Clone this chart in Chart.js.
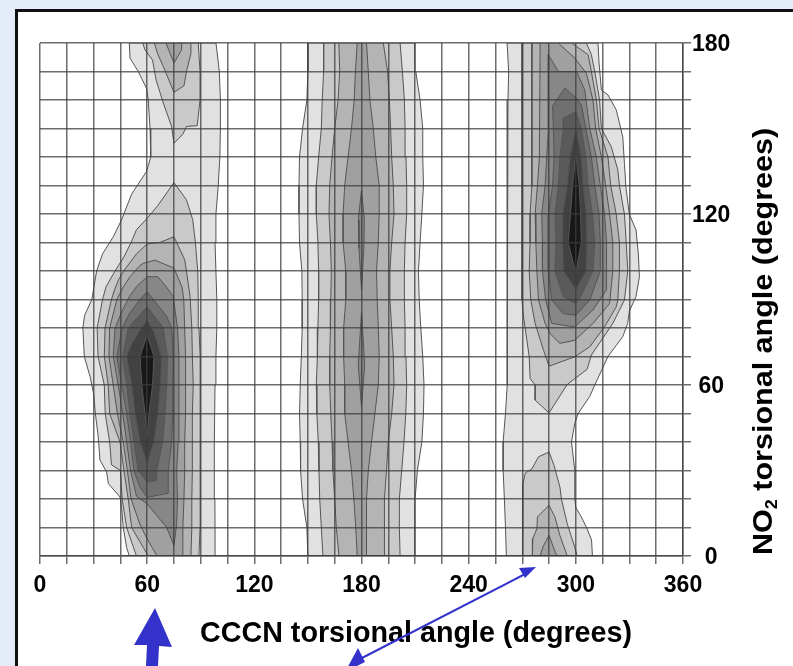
<!DOCTYPE html>
<html><head><meta charset="utf-8">
<style>
html,body{margin:0;padding:0;width:793px;height:666px;overflow:hidden;background:#e4ecf9}
#panel{position:absolute;left:15px;top:9px;width:778px;height:657px;background:#fff;border-left:3px solid #111;border-top:3px solid #111;box-sizing:border-box}
canvas{position:absolute;left:0;top:0;filter:blur(0.45px)}
svg{position:absolute;left:0;top:0;pointer-events:none}
</style>
<script src="https://cdn.jsdelivr.net/npm/chart.js@4"></script>
</head><body>
<div id="panel"></div>
<canvas id="c" width="793" height="666"></canvas>
<svg width="793" height="666">
<g fill="#3333cc" stroke="none">
<path d="M134 645 L155 608 L172 647 L159 646 L158 666 L146 666 L147 645 Z"/>
<path d="M536 567 L519 568 L525 578 Z"/>
<path d="M358 648 L365 662 L345 672 Z"/>
</g>
<line x1="527" y1="573" x2="360" y2="659" stroke="#3333cc" stroke-width="2"/>
</svg>
<script>
const xTickLabels = [0,60,120,180,240,300,360];
const yTickLabels = [0,60,120,180];
const xAxisTitle = "CCCN torsional angle (degrees)";
const yAxisTitleParts = ["NO","2"," torsional angle (degrees)"];
const levelGrays = ["#e1e1e1","#c9c9c9","#b4b4b4","#a0a0a0","#878787","#707070","#5a5a5a","#424242","#181818"];

// Left ridge
const leftL1 = [[50,180],[50.4,174.7],[55,170],[59.7,164],[60.6,160],[61.6,150],[62,140],[59.7,135],[51.3,127],[45.7,118],[41,112],[35,106],[31.7,100],[29,90],[25,84.5],[24,80],[24.8,70],[28,63],[29,60],[30,57],[31,50],[32.6,41.8],[33.6,33.6],[37.3,29.5],[38.3,25.4],[44.8,20.7],[45.7,17],[46.6,10],[48.5,3],[50,0],[98.5,0],[98,10],[97.9,20],[97.6,30],[97.6,40],[98,60],[98.5,70],[99,80],[99,90],[98,110],[98.5,120],[99.8,130],[100.7,140],[101,150],[101,160],[100.4,170],[99,177.6],[98.5,180]];
const leftTopL2 = [[57.5,180],[58.8,177.6],[63,174],[65,167],[69,159],[73.7,150.7],[75,144.8],[80,148],[82,150.7],[88,151],[89.6,160],[89.6,170],[88.6,180]];
const leftTopL3 = [[64,180],[66,176],[69,171.8],[75,162.7],[80.6,165],[82,170],[84.5,176.4],[84.5,180]];
const leftTopL4 = [[70.5,180],[75,173],[79.3,177.6],[79.3,180]];
const leftL2 = [[75,131],[66,123],[60,118.5],[54,114.5],[51,110],[47,105],[42,100],[37,94.5],[35,90],[32,80],[32.5,70],[36,60],[36.5,50],[39,40],[40,32],[45,30],[46,20],[48.5,10],[54,0],[89,0],[89.6,10],[89.6,20],[89.6,30],[89.6,40],[89.6,50],[89.6,60],[90,70],[89,80],[88.6,91],[88.3,100],[87,110],[85.5,118],[82,125]];
const leftL3 = [[75,112],[67,110],[60,109.5],[54,106],[48,101],[44,97],[41.5,93],[40,90],[36.4,80],[36,70],[38.2,60],[39,50],[44.8,40],[47,30],[49.4,20],[51.3,10],[57.8,3],[60.6,0],[84.5,0],[85,10],[85,20],[85.3,30],[85.3,40],[85.3,50],[85.8,60],[85.3,70],[85,80],[84,91],[82,100],[81,104]];
const leftL4 = [[75,101],[64.4,103.8],[57.8,102.7],[56,102],[50.4,98],[46.6,94.4],[43,90],[39,80],[38.6,70],[41,60],[43.3,50],[46.6,40],[48.9,30],[51,20],[56,11],[60,6],[65.5,0],[80,0],[80,10],[80.6,20],[81,30],[81,40],[81.5,50],[81.5,60],[81.5,70],[81,80],[80.5,90],[79.5,94.4]];
const leftL5 = [[60,98],[54,94.5],[50,91],[46,86],[42,80],[41,70],[43.8,60],[46.3,50],[48.5,40],[50.7,30],[54,21],[60,18.3],[70.9,10],[75,3.7],[76.5,11],[77,20],[76.5,30],[77.4,40],[77.8,50],[77.8,60],[77.8,70],[77,80],[74.6,91],[70.8,94.4],[66,98]];
const leftL6 = [[60,92.7],[56,90],[50,85],[46,80],[43,70],[45.7,60],[48.5,50],[50.7,40],[52.6,30],[56,24],[60,20.6],[71.8,22],[71.8,30],[73.7,40],[74.3,50],[74.3,60],[74.6,70],[73.7,80],[71,84],[66,88]];
const leftL7 = [[60,87.4],[54,83.3],[49.4,80],[46.3,70],[48.5,60],[50.4,50],[52.6,40],[55,30],[60,26],[65,26.5],[65.3,30],[68.7,40],[70,50],[71,60],[71.3,70],[69,80],[66,82.7]];
const leftL8 = [[60,82.8],[56,79.3],[51,74],[48.5,70],[51.3,60],[53.2,50],[56,40],[60,32.4],[63.8,40],[66,50],[67.5,60],[68,70],[63.8,78.7]];
const leftL9 = [[60,77.5],[56,70],[57,60],[58.8,50],[60,41.8],[61,50],[63,60],[63.8,70]];

// Middle ridge
const midL1 = [[150,180],[150,170],[149.4,160],[147,150],[145.3,140],[145,130],[145,120],[145.3,110],[146.6,100],[146.8,90],[146.8,80],[146.3,70],[145.7,60],[145.3,50],[145.7,40],[145.9,30],[147,20],[149.4,10],[150,0],[210,0],[210,10],[210,20],[211.3,30],[213.8,40],[214.7,50],[215,60],[214.3,70],[213.2,80],[212.3,90],[211.9,100],[212.8,110],[213.8,120],[214.7,130],[214.3,140],[214.3,150],[212.8,160],[210.4,170],[210,180]];
const midL2 = [[158.8,180],[158.8,170],[158,160],[157.5,150],[156,140],[154.7,130],[154.7,120],[155.6,110],[156,100],[156,90],[155.6,80],[155.3,70],[154.7,60],[155,50],[155.8,40],[156.2,30],[156.6,20],[157.5,10],[158.4,0],[201.6,0],[201.2,10],[201.2,20],[202.5,30],[203.8,40],[204.8,50],[205.3,60],[204.9,70],[204.4,80],[204,90],[204,100],[204.4,110],[205.3,120],[205.3,130],[204.9,140],[204.4,150],[204,160],[202.9,170],[201.6,180]];
const midL3 = [[167.3,180],[167.8,170],[166.9,160],[165,150],[163.5,140],[162.2,130],[161.8,120],[162.6,110],[163.1,100],[162.8,90],[162.6,80],[162.2,70],[162.2,60],[162.8,50],[163.5,40],[164,30],[165,20],[165.9,10],[167.4,0],[192.6,0],[192.6,10],[193.1,20],[194,30],[195,40],[196.9,50],[198.2,60],[197.8,70],[196.9,80],[195.9,90],[195.9,100],[196.9,110],[198.2,120],[197.8,130],[196.9,140],[196.3,150],[195.6,160],[194.6,170],[192.2,180]];
const midL4 = [[177.6,180],[176.6,170],[175.9,160],[174.4,150],[172.5,140],[170.6,130],[169.7,120],[169.7,110],[171.2,100],[171.2,90],[170,80],[170,70],[170.6,60],[170.6,50],[172.5,40],[174.4,30],[175.7,20],[176.8,10],[177.6,0],[182.8,0],[182.8,10],[182.8,20],[183.8,30],[185.6,40],[187.5,50],[189.4,60],[189.9,70],[189.4,80],[188.8,90],[188.4,100],[189.4,110],[189.9,120],[189.9,130],[188,140],[186.6,150],[184.7,160],[183.8,170],[182.8,180]];
const midUpperL5 = [[180,128.4],[178.2,118],[178.6,108],[180,93.3],[181.3,108],[181.6,118]];
const midLowerL5 = [[180,85.7],[178.2,67],[180,52.3],[181.8,67]];

// Right ridge
const rightL1 = [[261.5,180],[262.4,170],[262,160],[262,150],[261.9,140],[261.5,130],[261.5,120],[261.5,110],[261.5,100],[261.5,90],[261.5,80],[261.5,70],[261.5,60],[260.6,50],[259.3,40],[259.3,30],[260,20],[260.6,10],[261.1,0],[309.3,0],[308.8,5.6],[306,10],[303.1,13.7],[300,17],[299.4,20],[299.4,30],[297.6,40],[299.4,46.5],[301.3,50],[307.8,56],[310.6,60],[314.3,65],[318,70],[326.3,77],[329,81.6],[330,86],[333.7,91],[335.6,98],[335,106],[333.7,114.4],[329.9,120],[328,129.6],[327.2,137.8],[326.3,147],[322.6,156.6],[318,161.8],[314.3,163.5],[313,173],[312.4,180]];
const rightL2 = [[269.8,180],[269.8,130],[269.8,90],[270.7,84],[273.9,69.9],[274.4,62.3],[277.2,60],[277.2,54.7],[285,50.2],[295.2,60.2],[306.3,65.5],[308.7,70.5],[314.3,75.7],[320.7,81.6],[327.2,89.8],[329.1,100],[328.2,110],[327.2,120],[324.4,130],[323.5,135.5],[319.8,143.7],[314.3,150],[313.3,160],[310.6,170],[308.7,175.9],[305.9,180]];
const rightL3 = [[275.4,180],[275.4,140],[275.4,130],[274.4,120],[274.4,110],[273.9,100],[274.8,89.8],[277.2,81.6],[281.9,72.2],[285,66.6],[299.4,69.9],[307.8,73.4],[316.1,80.4],[322.6,87.4],[323.5,89.8],[324.4,100],[324.4,110],[322.6,120],[319.5,130],[318,140],[313,150],[311.5,160],[308.7,170],[306.9,175.9],[297.6,180]];
const rightL4 = [[280,180],[279.6,140],[278.5,130],[277.2,120],[277.6,110],[278.2,100],[279.1,89.8],[282.8,81.6],[285.6,78],[291.1,74.6],[299.4,75.7],[309.6,81.6],[318.9,88.6],[320.7,100],[320.7,110],[318.9,120],[316.7,130],[314.3,140],[311.1,150],[309.6,160],[305.9,169.4],[299.4,174.7],[290.2,180]];
const rightL5 = [[284.6,175.9],[284.6,150],[283.7,140],[282.8,130],[280.9,120],[281.3,110],[281.3,100],[283.1,89.8],[286.5,81.6],[299.4,80.4],[309.6,86.3],[317,93.3],[317,100],[317.4,110],[316.1,120],[313.7,130],[311.5,140],[307.8,150],[305,163.6],[300.4,170],[290.2,170]];
const rightL6 = [[287,158],[287.4,150],[287.8,140],[287,130],[284.6,120],[284.6,110],[284.6,100],[286.5,89.8],[293,85],[300,84.5],[307.8,89.8],[313.7,100],[313.7,110],[313,120],[310.6,130],[308.7,140],[305.6,150],[303.1,158.3],[300.4,160.6],[293.9,164.2]];
const rightL7 = [[293,153.6],[293,150],[291.1,140],[290.2,130],[288.3,120],[288.9,110],[288.3,100],[293,91],[300,88.6],[302.6,91],[309.6,100],[310.6,110],[309.3,120],[306.9,130],[305.6,140],[303.1,150],[300,156]];
const rightL8 = [[300,150.7],[296.7,140],[295.2,130],[292.6,120],[292.6,110],[293,100],[300,93.5],[305.9,100],[306.3,110],[305.9,120],[304.1,130],[303.1,140]];
const rightL9 = [[300,140.7],[298.2,130],[297,120],[295.7,110],[300,99.2],[303.1,110],[302.6,120],[301.9,130]];
const rightBottomL2 = [[285,36.5],[279.1,34.8],[275.4,30.6],[271.7,29.1],[270.4,25.4],[270.2,19.8],[270.2,0],[300.7,0],[299.4,3.1],[295.2,11.3],[292,19.8],[291.1,24.2],[287.8,31.8]];
const rightBottomL3 = [[285,17.8],[278.5,13.7],[278.2,9.6],[275.9,6.1],[275.7,0],[295.2,0],[291.1,7.2],[288.3,13.7]];
const rightBottomL4 = [[285,7.2],[281.5,3.1],[280,0],[289.3,0]];

const contours = [
 [1,leftL1],[1,midL1],[1,rightL1],
 [2,leftTopL2],[2,leftL2],[2,midL2],[2,rightL2],[2,rightBottomL2],
 [3,leftTopL3],[3,leftL3],[3,midL3],[3,rightL3],[3,rightBottomL3],
 [4,leftTopL4],[4,leftL4],[4,midL4],[4,rightL4],[4,rightBottomL4],
 [5,leftL5],[5,midUpperL5],[5,midLowerL5],[5,rightL5],
 [6,leftL6],[6,rightL6],[7,leftL7],[7,rightL7],[8,leftL8],[8,rightL8],[9,leftL9],[9,rightL9]
];

const datasets = contours.map(([lvl,pts])=>({
  data:[...pts,pts[0]].map(([x,y])=>({x,y})),
  showLine:true, fill:'shape', tension:0,
  backgroundColor:levelGrays[lvl-1], borderColor:'#555555', borderWidth:1,
  pointRadius:0, pointHoverRadius:0, order:10-lvl
}));

const FONT='"Liberation Sans", Arial, sans-serif';
const axisTitles = {
  id:'axisTitles',
  afterDraw(chart){
    const c=chart.ctx; c.save(); c.fillStyle='#000'; c.textBaseline='alphabetic';
    c.font='bold 28.7px '+FONT; c.textAlign='center';
    c.fillText(xAxisTitle,416,642);
    c.translate(772,555); c.rotate(-Math.PI/2); c.scale(1.13,1); c.textAlign='left';
    c.font='bold 27px '+FONT;
    let p=0;
    c.fillText(yAxisTitleParts[0],p,0); p+=c.measureText(yAxisTitleParts[0]).width;
    c.font='bold 16px '+FONT;
    c.fillText(yAxisTitleParts[1],p,5); p+=c.measureText(yAxisTitleParts[1]).width;
    c.font='bold 27px '+FONT;
    c.fillText(yAxisTitleParts[2],p,0);
    c.restore();
  }
};
const GRID='rgba(60,60,60,0.75)';
new Chart(document.getElementById('c'),{
  type:'scatter',
  data:{datasets},
  plugins:[axisTitles],
  options:{
    responsive:false, animation:false, events:[],
    layout:{padding:{left:40,top:43,right:0,bottom:0}},
    plugins:{legend:{display:false},tooltip:{enabled:false},title:{display:false}},
    scales:{
      x:{type:'linear',min:0,max:360,
        afterFit(s){s.height=110;},
        grid:{z:1,color:GRID,lineWidth:1.5,tickLength:8,drawTicks:true},
        border:{z:2,color:GRID,width:1.5},
        ticks:{z:3,stepSize:15,autoSkip:false,maxRotation:0,padding:8,color:'#000',font:{family:FONT,weight:'bold',size:23},
          callback:v=>xTickLabels.includes(v)?String(v):''}},
      y:{type:'linear',position:'right',min:0,max:180,
        afterFit(s){s.width=110;},
        grid:{z:1,color:GRID,lineWidth:1.5,tickLength:8,drawTicks:true},
        border:{z:2,color:GRID,width:1.5},
        ticks:{z:3,stepSize:10,autoSkip:false,padding:1,labelOffset:2,crossAlign:'center',color:'#000',font:{family:FONT,weight:'bold',size:23},
          callback:v=>yTickLabels.includes(v)?String(v):''}}
    }
  }
});
</script>
</body></html>
